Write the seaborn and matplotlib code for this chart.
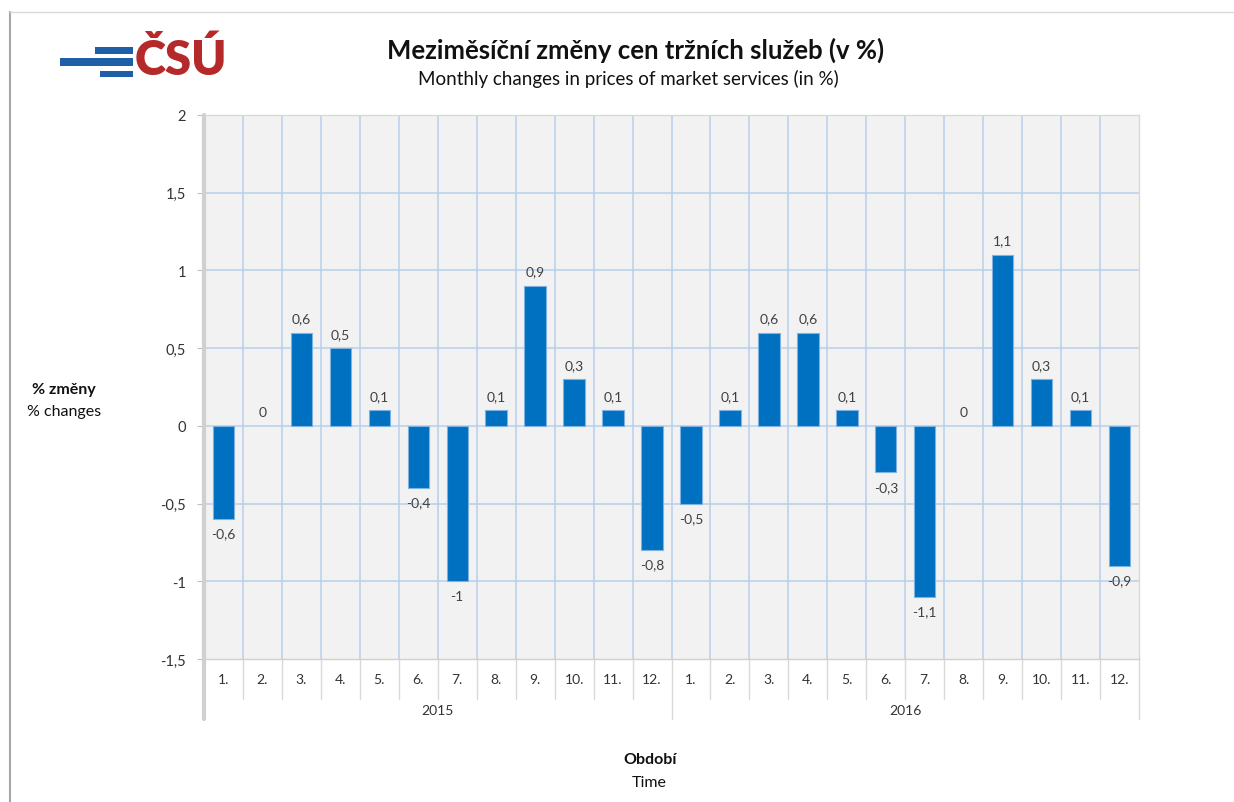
import matplotlib
matplotlib.use("Agg")
import matplotlib.pyplot as plt
import matplotlib.transforms as mtransforms
from matplotlib.patches import Rectangle
from matplotlib.lines import Line2D
import seaborn as sns
import pandas as pd

years = ["2015", "2016"]
months = ["1.", "2.", "3.", "4.", "5.", "6.", "7.", "8.", "9.", "10.", "11.", "12."]
values_2015 = [-0.6, 0, 0.6, 0.5, 0.1, -0.4, -1, 0.1, 0.9, 0.3, 0.1, -0.8]
values_2016 = [-0.5, 0.1, 0.6, 0.6, 0.1, -0.3, -1.1, 0, 1.1, 0.3, 0.1, -0.9]
yticks = [-1.5, -1, -0.5, 0, 0.5, 1, 1.5, 2]

title_cz = "Meziměsíční změny cen tržních služeb (v %)"
title_en = "Monthly changes in prices of market services (in %)"
ylab_cz, ylab_en = "% změny", "% changes"
xlab_cz, xlab_en = "Období", "Time"

rows = []
for y, vals in zip(years, [values_2015, values_2016]):
    for m, v in zip(months, vals):
        rows.append({"key": f"{y}-{m}", "year": y, "month": m, "value": v})
df = pd.DataFrame(rows)

sns.set_theme(style="white")
plt.rcParams["font.family"] = ["Lato", "DejaVu Sans"]

W, H = 1234, 803
fig = plt.figure(figsize=(W / 100, H / 100), dpi=100)
fig.patch.set_facecolor("white")
left, right, top, bottom = 204, 1139, 116, 660
ax = fig.add_axes([left / W, 1 - bottom / H, (right - left) / W, (bottom - top) / H])
ax.set_facecolor("#F2F2F2")

sns.barplot(data=df, x="key", y="value", order=list(df["key"]), color="#0070C0",
            width=0.55, edgecolor="#7FB2E0", linewidth=0.8, saturation=1, ax=ax, zorder=3)
for p in ax.patches:
    if p.get_height() == 0:
        p.set_linewidth(0)

n = len(df)
ax.set_xlim(-0.5, n - 0.5)
ax.set_ylim(-1.5, 2)
ax.set_yticks(yticks)
ax.set_yticklabels([(f"{t:g}").replace(".", ",") for t in yticks], fontsize=10.5, color="#333333")
ax.tick_params(axis="y", length=5, width=0.8, color="#BFBFBF", pad=8, left=True)
ax.set_xticks([])
ax.set_xlabel("")
ax.set_ylabel("")

grid_c = "#B7CFEC"
for t in yticks[1:]:
    ax.axhline(t, color=grid_c, lw=1.1, zorder=1)
for i in range(1, n):
    ax.axvline(i - 0.5, color=grid_c, lw=1.1, zorder=1)

for s in ["top", "right"]:
    ax.spines[s].set_color("#D9D9D9")
    ax.spines[s].set_linewidth(1)
ax.spines["bottom"].set_color("#D0D0D0")
ax.spines["bottom"].set_linewidth(1)
ax.spines["left"].set_visible(False)

trans = mtransforms.blended_transform_factory(ax.transData, ax.transAxes)
ph = bottom - top
y_month_end = -(700 - bottom) / ph
y_year_end = -(720 - bottom) / ph
ax.add_line(Line2D([-0.5, -0.5], [1, y_year_end], transform=trans, color="#D0D0D0",
                   lw=3, clip_on=False, zorder=5))
for i in range(1, n):
    x = i - 0.5
    yend = y_year_end if i % 12 == 0 else y_month_end
    ax.add_line(Line2D([x, x], [0, yend], transform=trans, color="#D9D9D9",
                       lw=1, clip_on=False))
ax.add_line(Line2D([n - 0.5, n - 0.5], [0, y_year_end], transform=trans, color="#D9D9D9",
                   lw=1, clip_on=False))

for i, row in df.iterrows():
    ax.text(i, -(680 - bottom) / ph, row["month"], transform=trans, ha="center",
            va="center", fontsize=10, color="#333333")
for k, y in enumerate(years):
    ax.text(k * 12 + 5.5, -(711 - bottom) / ph, y, transform=trans, ha="center",
            va="center", fontsize=10, color="#333333")

for i, row in df.iterrows():
    v = row["value"]
    lab = f"{v:g}".replace(".", ",")
    if v >= 0:
        ax.annotate(lab, (i, v), xytext=(0, 6), textcoords="offset points", ha="center",
                    va="bottom", fontsize=10, color="#404040", zorder=6)
    else:
        ax.annotate(lab, (i, v), xytext=(0, -6), textcoords="offset points", ha="center",
                    va="top", fontsize=10, color="#404040", zorder=6)

fig.text(636 / W, 1 - 50 / H, title_cz, ha="center", va="center", fontsize=18.5,
         fontweight="bold", color="#111111")
fig.text(628 / W, 1 - 79 / H, title_en, ha="center", va="center", fontsize=13.5,
         color="#111111")
fig.text(64 / W, 1 - 390 / H, ylab_cz, ha="center", va="center", fontsize=11.5,
         fontweight="bold", color="#111111")
fig.text(64 / W, 1 - 412 / H, ylab_en, ha="center", va="center", fontsize=11.5,
         color="#111111")
fig.text(650 / W, 1 - 760 / H, xlab_cz, ha="center", va="center", fontsize=11.5,
         fontweight="bold", color="#111111")
fig.text(649 / W, 1 - 783 / H, xlab_en, ha="center", va="center", fontsize=11.5,
         color="#111111")

fig.add_artist(Line2D([10 / W, 10 / W], [0, 1 - 13 / H], transform=fig.transFigure,
                      color="#A6A6A6", lw=1.5))
fig.add_artist(Line2D([10 / W, 1], [1 - 13 / H, 1 - 13 / H], transform=fig.transFigure,
                      color="#D9D9D9", lw=1))

logo_blue = "#1F5FA8"
for (x0, x1, y0, y1) in [(95, 133, 48, 55), (60, 133, 59, 67), (100, 133, 72, 78)]:
    fig.add_artist(Rectangle((x0 / W, 1 - y1 / H), (x1 - x0) / W, (y1 - y0) / H,
                             transform=fig.transFigure, color=logo_blue, lw=0))
fig.text(135 / W, 1 - 61 / H, "ČSÚ", ha="left", va="center", fontsize=34,
         fontweight="heavy", color="#B5292A", family=["Lato", "DejaVu Sans"])

fig.savefig("out.png", dpi=100, facecolor="white")
